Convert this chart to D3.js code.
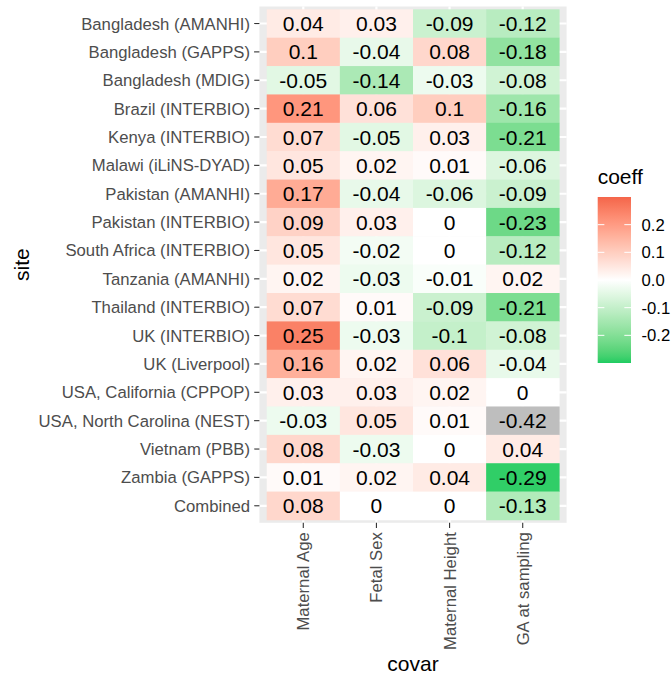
<!DOCTYPE html>
<html>
<head>
<meta charset="utf-8">
<script src="https://cdn.jsdelivr.net/npm/d3@7"></script>
<style>
  html, body { margin: 0; padding: 0; background: #fff; }
  svg { display: block; font-family: "Liberation Sans", Arial, Helvetica, sans-serif; }
</style>
</head>
<body>
<svg id="chart" width="672" height="677"></svg>
<script>
// Sites, top to bottom
const sites = [
  "Bangladesh (AMANHI)", "Bangladesh (GAPPS)", "Bangladesh (MDIG)", "Brazil (INTERBIO)",
  "Kenya (INTERBIO)", "Malawi (iLiNS-DYAD)", "Pakistan (AMANHI)", "Pakistan (INTERBIO)",
  "South Africa (INTERBIO)", "Tanzania (AMANHI)", "Thailand (INTERBIO)", "UK (INTERBIO)",
  "UK (Liverpool)", "USA, California (CPPOP)", "USA, North Carolina (NEST)", "Vietnam (PBB)",
  "Zambia (GAPPS)", "Combined"
];
const covars = ["Maternal Age", "Fetal Sex", "Maternal Height", "GA at sampling"];

// Coefficients per covariate, in the order of `sites`
const maternalAge    = [0.04, 0.1, -0.05, 0.21, 0.07, 0.05, 0.17, 0.09, 0.05, 0.02, 0.07, 0.25, 0.16, 0.03, -0.03, 0.08, 0.01, 0.08];
const fetalSex       = [0.03, -0.04, -0.14, 0.06, -0.05, 0.02, -0.04, 0.03, -0.02, -0.03, 0.01, -0.03, 0.02, 0.03, 0.05, -0.03, 0.02, 0];
const maternalHeight = [-0.09, 0.08, -0.03, 0.1, 0.03, 0.01, -0.06, 0, 0, -0.01, -0.09, -0.1, 0.06, 0.02, 0.01, 0, 0.04, 0];
const gaAtSampling   = [-0.12, -0.18, -0.08, -0.16, -0.21, -0.06, -0.09, -0.23, -0.12, 0.02, -0.21, -0.08, -0.04, 0, -0.42, 0.04, -0.29, -0.13];

const legendTicks = [0.2, 0.1, 0.0, -0.1, -0.2];
const legendTickLabels = ["0.2", "0.1", "0.0", "-0.1", "-0.2"];
const fillLimits = [-0.3, 0.3];

const seriesByCovar = [maternalAge, fetalSex, maternalHeight, gaAtSampling];
const cells = [];
covars.forEach((c, j) => {
  sites.forEach((s, i) => cells.push({ site: s, covar: c, coeff: seriesByCovar[j][i] }));
});

const svg = d3.select("#chart");

// Panel geometry
const panel = { left: 259.4, right: 566.6, top: 6.5, bottom: 522.8 };

const x = d3.scaleBand().domain(covars).range([panel.left, panel.right])
  .paddingInner(0).paddingOuter(0.1);
const y = d3.scaleBand().domain(sites).range([panel.top, panel.bottom])
  .paddingInner(0).paddingOuter(0.1);

const lowCol = "#1ECC62", midCol = "#FFFFFF", highCol = "#F4654A", naCol = "#BEBEBE";
const colorScale = d3.scaleLinear()
  .domain([fillLimits[0], 0, fillLimits[1]])
  .range([lowCol, midCol, highCol])
  .interpolate(d3.interpolateLab);
const fill = v => (v < fillLimits[0] || v > fillLimits[1]) ? naCol : colorScale(v);

// Panel background and grid
svg.append("rect")
  .attr("x", panel.left).attr("y", panel.top)
  .attr("width", panel.right - panel.left).attr("height", panel.bottom - panel.top)
  .attr("fill", "#EBEBEB");

const grid = svg.append("g").attr("stroke", "#FFFFFF").attr("stroke-width", 2.2);
grid.selectAll("line.v").data(covars).join("line")
  .attr("x1", d => x(d) + x.bandwidth() / 2).attr("x2", d => x(d) + x.bandwidth() / 2)
  .attr("y1", panel.top).attr("y2", panel.bottom);
grid.selectAll("line.h").data(sites).join("line")
  .attr("y1", d => y(d) + y.bandwidth() / 2).attr("y2", d => y(d) + y.bandwidth() / 2)
  .attr("x1", panel.left).attr("x2", panel.right);

// Tiles
svg.append("g").selectAll("rect").data(cells).join("rect")
  .attr("x", d => x(d.covar)).attr("y", d => y(d.site))
  .attr("width", x.bandwidth() + 0.3).attr("height", y.bandwidth() + 0.3)
  .attr("fill", d => fill(d.coeff));

// Values in tiles
svg.append("g").selectAll("text").data(cells).join("text")
  .attr("x", d => x(d.covar) + x.bandwidth() / 2)
  .attr("y", d => y(d.site) + y.bandwidth() / 2)
  .attr("text-anchor", "middle").attr("dy", "0.36em")
  .attr("font-size", 21).attr("fill", "#000")
  .text(d => String(d.coeff));

// Axes
const yAxis = svg.append("g").attr("transform", `translate(${panel.left},0)`)
  .call(d3.axisLeft(y).tickSize(5.2).tickPadding(4.2));
const xAxis = svg.append("g").attr("transform", `translate(0,${panel.bottom})`)
  .call(d3.axisBottom(x).tickSize(5.2).tickPadding(4.2));
[yAxis, xAxis].forEach(a => {
  a.select(".domain").remove();
  a.selectAll(".tick line").attr("stroke", "#333333").attr("stroke-width", 1.1);
  a.selectAll(".tick text").attr("fill", "#4D4D4D").attr("font-size", 16.7)
    .attr("font-family", "'Liberation Sans', Arial, sans-serif");
});
yAxis.selectAll(".tick text").attr("dy", "0.36em");
xAxis.selectAll(".tick text")
  .attr("transform", "rotate(-90)")
  .attr("text-anchor", "end")
  .attr("x", -9.4).attr("y", 0).attr("dy", "0.36em");

// Axis titles
svg.append("text")
  .attr("x", (panel.left + panel.right) / 2).attr("y", 671)
  .attr("text-anchor", "middle").attr("font-size", 21).attr("fill", "#000")
  .text("covar");
svg.append("text")
  .attr("transform", `translate(29,${(panel.top + panel.bottom) / 2}) rotate(-90)`)
  .attr("text-anchor", "middle").attr("font-size", 21).attr("fill", "#000")
  .text("site");

// Colour bar legend
const leg = { x: 597.7, w: 33.3, top: 197, bottom: 363 };
const ly = d3.scaleLinear().domain(fillLimits).range([leg.bottom, leg.top]);
const defs = svg.append("defs");
const grad = defs.append("linearGradient").attr("id", "coeffGrad")
  .attr("x1", 0).attr("y1", 1).attr("x2", 0).attr("y2", 0);
d3.range(0, 1.0001, 0.02).forEach(t => {
  grad.append("stop").attr("offset", t)
    .attr("stop-color", colorScale(fillLimits[0] + t * (fillLimits[1] - fillLimits[0])));
});
svg.append("text").attr("x", leg.x).attr("y", 184)
  .attr("font-size", 21).attr("fill", "#000").text("coeff");
svg.append("rect").attr("x", leg.x).attr("y", leg.top)
  .attr("width", leg.w).attr("height", leg.bottom - leg.top)
  .attr("fill", "url(#coeffGrad)");
const lt = svg.append("g");
legendTicks.forEach((v, i) => {
  const yy = ly(v);
  lt.append("line").attr("x1", leg.x).attr("x2", leg.x + leg.w / 5)
    .attr("y1", yy).attr("y2", yy).attr("stroke", "#fff").attr("stroke-width", 1);
  lt.append("line").attr("x1", leg.x + leg.w * 4 / 5).attr("x2", leg.x + leg.w)
    .attr("y1", yy).attr("y2", yy).attr("stroke", "#fff").attr("stroke-width", 1);
  lt.append("text").attr("x", 641.5).attr("y", yy).attr("dy", "0.36em")
    .attr("font-size", 16.7).attr("fill", "#000").text(legendTickLabels[i]);
});
</script>
</body>
</html>
